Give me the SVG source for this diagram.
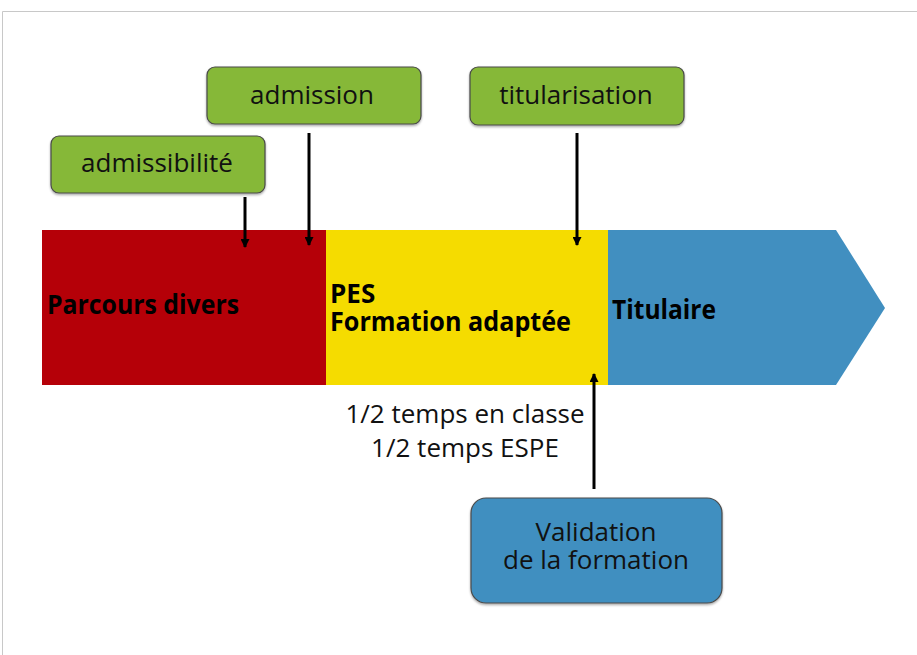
<svg xmlns="http://www.w3.org/2000/svg" width="917" height="655" viewBox="0 0 917 655">
  <defs>
    <style>
      .box { stroke: #4a4a4a; stroke-width: 1.2; }
      .green { fill: #86B837; }
      .blue { fill: #418FC0; }
      .lbl { font-family: "Open Sans", "Liberation Sans", sans-serif; font-size: 26px; fill: #111; text-anchor: middle; }
      .band { font-family: "Open Sans", "Liberation Sans", sans-serif; font-size: 26px; font-weight: bold; fill: #000; }
      .conn { stroke: #000; stroke-width: 3; fill: none; marker-end: url(#head); }
    </style>
    <marker id="head" viewBox="0 0 10 10" refX="9" refY="5" markerWidth="3.3" markerHeight="3" orient="auto" markerUnits="strokeWidth">
      <path d="M0,0 L10,5 L0,10 z" fill="#000"/>
    </marker>
    <filter id="shadow" x="-5%" y="-5%" width="110%" height="120%">
      <feDropShadow dx="0" dy="1.5" stdDeviation="1" flood-color="#000" flood-opacity="0.35"/>
    </filter>
  </defs>

  <rect width="917" height="655" fill="#fff"/>
  <!-- page frame -->
  <path d="M2.5,655 V11.5 H917" fill="none" stroke="#c8c8c8" stroke-width="1"/>

  <!-- timeline bands -->
  <g id="band-parcours">
    <rect x="42" y="230" width="284" height="155" fill="#B50008"/>
    <text class="band" x="47" y="314" textLength="192" lengthAdjust="spacingAndGlyphs">Parcours divers</text>
  </g>
  <g id="band-pes">
    <rect x="326" y="230" width="282" height="155" fill="#F5DC00"/>
    <text class="band" x="330" y="303">PES</text>
    <text class="band" x="330" y="331" textLength="241" lengthAdjust="spacingAndGlyphs">Formation adaptée</text>
  </g>
  <g id="band-titulaire">
    <path d="M608,230 H836 L885,308 L836,385 H608 z" fill="#418FC0"/>
    <text class="band" x="612" y="319" textLength="104" lengthAdjust="spacingAndGlyphs">Titulaire</text>
  </g>

  <!-- milestone boxes -->
  <g id="admissibilite">
    <rect class="box green" x="51" y="136" width="214" height="57" rx="8" filter="url(#shadow)"/>
    <text class="lbl" x="157" y="172">admissibilité</text>
  </g>
  <g id="admission">
    <rect class="box green" x="207" y="67" width="214" height="57" rx="8" filter="url(#shadow)"/>
    <text class="lbl" x="312" y="104">admission</text>
  </g>
  <g id="titularisation">
    <rect class="box green" x="470" y="67" width="214" height="58" rx="8" filter="url(#shadow)"/>
    <text class="lbl" x="576" y="104">titularisation</text>
  </g>
  <g id="validation">
    <rect class="box blue" x="471" y="498" width="251" height="105" rx="15" filter="url(#shadow)"/>
    <text class="lbl" x="596" y="541">Validation</text>
    <text class="lbl" x="596" y="569">de la formation</text>
  </g>

  <!-- free text under the timeline -->
  <g id="rythme">
    <text class="lbl" x="465" y="423">1/2 temps en classe</text>
    <text class="lbl" x="465" y="457">1/2 temps ESPE</text>
  </g>

  <!-- connectors -->
  <g id="connectors">
    <line class="conn" x1="245" y1="197" x2="245" y2="247"/>
    <line class="conn" x1="309" y1="133" x2="309" y2="245"/>
    <line class="conn" x1="577" y1="133" x2="577" y2="245"/>
    <line class="conn" x1="594" y1="489" x2="594" y2="374"/>
  </g>
</svg>
